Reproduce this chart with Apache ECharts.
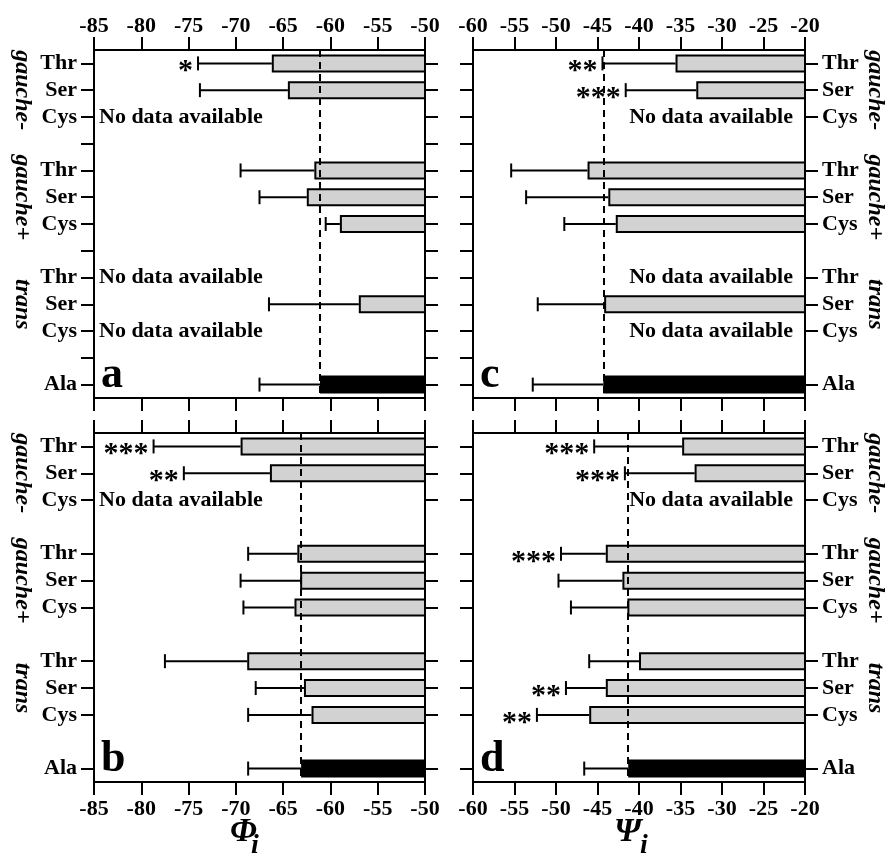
<!DOCTYPE html>
<html>
<head>
<meta charset="utf-8">
<script src="https://cdn.jsdelivr.net/npm/echarts@6/dist/echarts.min.js"></script>
<style>
  html, body { margin: 0; padding: 0; background: #fff; }
  #main { width: 888px; height: 859px; }
</style>
</head>
<body>
<div id="main"></div>
<script>
// rows top to bottom, '' = spacer between conformer groups
const rowLabels = ['Thr', 'Ser', 'Cys', '', 'Thr', 'Ser', 'Cys', '', 'Thr', 'Ser', 'Cys', '', 'Ala']
const groupLabels = ['gauche-', 'gauche+', 'trans']
const groupRows = [1, 5, 9]
const panelLetters = ['a', 'c', 'b', 'd']
const phiRange = [-85, -50]
const psiRange = [-60, -20]

// panel a: Phi
const phiA = [-66.2, -64.5, null, null, -61.7, -62.5, -59.0, null, null, -57.0, null, null, -61.1]
const phiAErr = [-74.0, -73.8, null, null, -69.5, -67.5, -60.5, null, null, -66.5, null, null, -67.5]
const phiAStars = ['*', '', '', '', '', '', '', '', '', '', '', '', '']
// panel c: Psi
const psiC = [-35.6, -33.1, null, null, -46.2, -43.7, -42.8, null, null, -44.2, null, null, -44.3]
const psiCErr = [-44.4, -41.6, null, null, -55.4, -53.6, -49.0, null, null, -52.2, null, null, -52.8]
const psiCStars = ['**', '***', '', '', '', '', '', '', '', '', '', '', '']
// panel b: Phi
const phiB = [-69.5, -66.4, null, null, -63.5, -63.2, -63.8, null, -68.8, -62.8, -62.0, null, -63.1]
const phiBErr = [-78.7, -75.5, null, null, -68.7, -69.5, -69.2, null, -77.5, -67.9, -68.7, null, -68.7]
const phiBStars = ['***', '**', '', '', '', '', '', '', '', '', '', '', '']
// panel d: Psi
const psiD = [-34.8, -33.3, null, null, -44.0, -42.0, -41.4, null, -40.0, -44.0, -46.0, null, -41.3]
const psiDErr = [-45.4, -41.7, null, null, -49.4, -49.7, -48.2, null, -46.0, -48.8, -52.3, null, -46.6]
const psiDStars = ['***', '***', '', '', '***', '', '', '', '', '**', '**', '', '']

const serif = '"Liberation Serif", "Times New Roman", serif'
const black = '#000'
const line2 = { color: black, width: 2 }

let chart = echarts.init(document.getElementById('main'))

const boxes = [
  { left: 94, top: 50, width: 331, height: 348 },
  { left: 473, top: 50, width: 332, height: 348 },
  { left: 94, top: 433, width: 331, height: 349 },
  { left: 473, top: 433, width: 332, height: 349 },
]
const panels = [
  { vals: phiA, errs: phiAErr, stars: phiAStars, range: phiRange, labelSide: 'left', xLabelSide: 'top', gapTicks: [true, true] },
  { vals: psiC, errs: psiCErr, stars: psiCStars, range: psiRange, labelSide: 'right', xLabelSide: 'top', gapTicks: [true, false] },
  { vals: phiB, errs: phiBErr, stars: phiBStars, range: phiRange, labelSide: 'left', xLabelSide: 'bottom', gapTicks: [false, false] },
  { vals: psiD, errs: psiDErr, stars: psiDStars, range: psiRange, labelSide: 'right', xLabelSide: 'bottom', gapTicks: [false, false] },
]

let grids = [], xAxes = [], yAxes = [], series = [], graphics = []

panels.forEach((p, k) => {
  const b = boxes[k]
  grids.push({ left: b.left, top: b.top, width: b.width, height: b.height, containLabel: false, outerBoundsMode: 'none' })

  ;['top', 'bottom'].forEach(pos => {
    xAxes.push({
      type: 'value',
      gridIndex: k,
      position: pos,
      min: p.range[0],
      max: p.range[1],
      interval: 5,
      axisLine: { show: true, onZero: false, lineStyle: line2 },
      axisTick: { show: true, length: 13, lineStyle: line2 },
      axisLabel: {
        show: pos === p.xLabelSide,
        margin: pos === 'top' ? 13 : 16,
        color: black,
        fontFamily: serif,
        fontWeight: 'bold',
        fontSize: 22,
      },
      splitLine: { show: false },
    })
  })

  ;['left', 'right'].forEach((pos, j) => {
    yAxes.push({
      type: 'category',
      gridIndex: k,
      position: pos,
      inverse: true,
      data: rowLabels,
      axisLine: { show: true, onZero: false, lineStyle: line2 },
      axisTick: {
        show: true,
        alignWithLabel: true,
        length: 13,
        lineStyle: line2,
        interval: p.gapTicks[j] ? 0 : (i, v) => v !== '',
      },
      axisLabel: {
        show: pos === p.labelSide,
        interval: 0,
        margin: 17,
        color: black,
        fontFamily: serif,
        fontWeight: 'bold',
        fontSize: 22,
      },
      splitLine: { show: false },
    })
  })

  // bars run from the mean out to the right edge of the frame
  series.push({
    type: 'bar',
    xAxisIndex: 2 * k,
    yAxisIndex: 2 * k,
    barWidth: 18,
    clip: true,
    itemStyle: { color: '#d2d2d2', borderColor: black, borderWidth: 2 },
    data: p.vals.map((v, i) => rowLabels[i] === 'Ala' ? { value: v, itemStyle: { color: black } } : v),
    markLine: {
      silent: true,
      symbol: 'none',
      label: { show: false },
      lineStyle: { color: black, width: 2, type: [7, 5] },
      data: [{ xAxis: p.vals[rowLabels.indexOf('Ala')] }],
    },
  })

  // error bars with significance stars
  let errData = []
  p.vals.forEach((v, i) => { if (v != null) errData.push([i, p.errs[i], v]) })
  series.push({
    type: 'custom',
    xAxisIndex: 2 * k,
    yAxisIndex: 2 * k,
    encode: { x: [1, 2], y: 0 },
    data: errData,
    z: 3,
    renderItem: (params, api) => {
      const i = api.value(0)
      const lo = api.coord([api.value(1), i])
      const hi = api.coord([api.value(2), i])
      const cap = 7
      let children = [
        { type: 'line', shape: { x1: lo[0], y1: lo[1], x2: hi[0], y2: hi[1] }, style: { stroke: black, lineWidth: 2 } },
        { type: 'line', shape: { x1: lo[0], y1: lo[1] - cap, x2: lo[0], y2: lo[1] + cap }, style: { stroke: black, lineWidth: 2 } },
      ]
      const s = p.stars[i]
      if (s) {
        children.push({
          type: 'text',
          x: lo[0] - 5,
          y: lo[1] + 8,
          style: { text: s, fill: black, font: 'bold 30px ' + serif, align: 'right', verticalAlign: 'middle' },
        })
      }
      return { type: 'group', children }
    },
  })

  // "No data available" rows
  const left = p.labelSide === 'left'
  let noData = []
  p.vals.forEach((v, i) => { if (v == null && rowLabels[i] !== '') noData.push([left ? p.range[0] : p.range[1], i]) })
  series.push({
    type: 'custom',
    xAxisIndex: 2 * k,
    yAxisIndex: 2 * k,
    encode: { x: 0, y: 1 },
    data: noData,
    renderItem: (params, api) => {
      const pt = api.coord([api.value(0), api.value(1)])
      return {
        type: 'text',
        x: pt[0] + (left ? 5 : -12),
        y: pt[1],
        style: { text: 'No data available', fill: black, font: 'bold 22px ' + serif, align: left ? 'left' : 'right', verticalAlign: 'middle' },
      }
    },
  })

  // panel letter
  const band = b.height / rowLabels.length
  graphics.push({
    type: 'text',
    x: b.left + 7,
    y: b.top + (rowLabels.length - 0.5) * band - 9,
    style: { text: panelLetters[k], fill: black, font: 'bold 44px ' + serif, align: 'left', verticalAlign: 'middle' },
  })

  // conformer group names, rotated
  groupLabels.forEach((g, n) => {
    graphics.push({
      type: 'text',
      x: left ? 22 : 875,
      y: b.top + (groupRows[n] + 0.5) * band,
      rotation: -Math.PI / 2,
      style: { text: g, fill: black, font: 'italic bold 24px ' + serif, align: 'center', verticalAlign: 'middle' },
    })
  })
})

// axis titles
const titles = [
  { main: 'Φ', x: 230, y: 832 },
  { main: 'Ψ', x: 614, y: 832 },
]
titles.forEach(t => {
  graphics.push({
    type: 'text', x: t.x, y: t.y,
    style: { text: t.main, fill: black, font: 'italic bold 34px ' + serif, align: 'left', verticalAlign: 'middle' },
  })
  graphics.push({
    type: 'text', x: t.x + (t.main === 'Φ' ? 21 : 26), y: t.y + 14,
    style: { text: 'i', fill: black, font: 'italic bold 28px ' + serif, align: 'left', verticalAlign: 'middle' },
  })
})

chart.setOption({
  animation: false,
  backgroundColor: '#fff',
  grid: grids,
  xAxis: xAxes,
  yAxis: yAxes,
  series,
  graphic: graphics,
})
</script>
</body>
</html>
